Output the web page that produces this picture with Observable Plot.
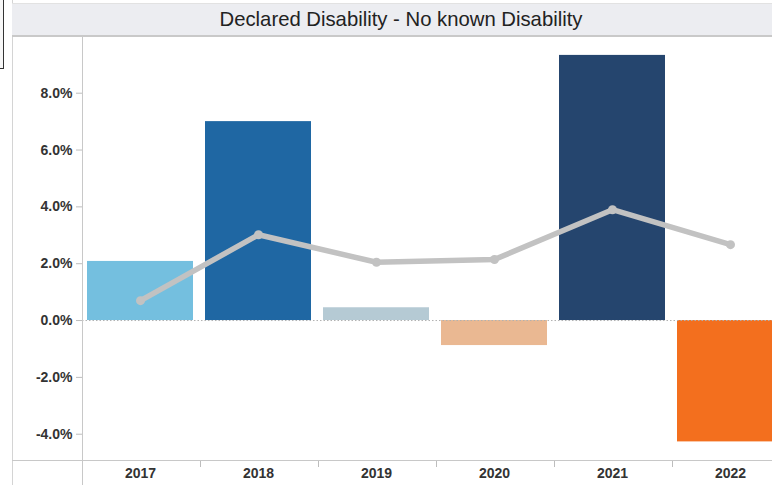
<!DOCTYPE html>
<html>
<head>
<meta charset="utf-8">
<script src="https://cdn.jsdelivr.net/npm/d3@7"></script>
<script src="https://cdn.jsdelivr.net/npm/@observablehq/plot@0.6"></script>
<style>
  html, body { margin: 0; padding: 0; background: #fff; }
  #wrap { position: relative; width: 772px; height: 485px; overflow: hidden; font-family: "Liberation Sans", Arial, sans-serif; }
  #legendbox { position: absolute; left: -2px; top: -2px; width: 4px; height: 69px; border: 1px solid #333; background: #f7f7f7; }
  #leftline { position: absolute; left: 12px; top: 0; width: 1px; height: 485px; background: #d4d4d4; }
  #title { position: absolute; left: 12px; top: 3px; width: 778px; height: 31px; background: #ecedf1; border-top: 1px solid #e2e2e2; border-bottom: 2px solid #c9c9c9;
           font-size: 20.3px; color: #222; text-align: center; line-height: 31px; }
  #chart { position: absolute; left: 0; top: 37px; width: 790px; height: 448px; }
  #chart svg { max-width: none !important; }
  #yline { position: absolute; left: 82px; top: 37px; width: 1px; height: 448px; background: #c8c8c8; }
  #xline { position: absolute; left: 12px; top: 460px; width: 778px; height: 1px; background: #c8c8c8; }
</style>
</head>
<body>
<div id="wrap">
  <div id="legendbox"></div>
  <div id="leftline"></div>
  <div id="title">Declared Disability - No known Disability</div>
  <div id="chart"></div>
  <div id="yline"></div>
  <div id="xline"></div>
</div>
<script>
const years = ["2017", "2018", "2019", "2020", "2021", "2022"];
const diffValues = [0.0208, 0.0700, 0.0045, -0.0088, 0.0933, -0.0427];
const lineValues = [0.0070, 0.0302, 0.0205, 0.0215, 0.0390, 0.0267];
const barColors = ["#74bfdf", "#1f67a3", "#b5cad4", "#eab892", "#25456e", "#f36f1e"];
const yTicks = [-0.04, -0.02, 0, 0.02, 0.04, 0.06, 0.08];

const data = years.map((y, i) => ({year: y, diff: diffValues[i], avg: lineValues[i]}));

const width = 790, height = 448, marginLeft = 82, marginBottom = 24;
const step = (width - marginLeft) / years.length;
const pct = d => d3.format(".1%")(d).replace("\u2212", "-");

const chart = Plot.plot({
  width, height,
  marginLeft, marginRight: 0, marginTop: 0, marginBottom,
  style: {fontFamily: "'Liberation Sans', Arial, sans-serif", color: "#333", background: "transparent", overflow: "visible", maxWidth: "none"},
  x: {domain: years, padding: 0},
  y: {domain: [-0.0496, 0.0996]},
  color: {domain: years, range: barColors},
  marks: [
    Plot.barY(data, {x: "year", y: "diff", fill: "year", insetLeft: 5, insetRight: 7}),
    Plot.ruleY([0], {stroke: "#b0b0b0", strokeWidth: 1, strokeDasharray: "1.5,2"}),
    Plot.line(data, {x: "year", y: "avg", stroke: "#c2c2c2", strokeWidth: 5.5, strokeLinejoin: "round", dx: -1}),
    Plot.dot(data, {x: "year", y: "avg", r: 4.5, fill: "#c2c2c2", dx: -1}),
    Plot.axisY({ticks: yTicks, tickFormat: pct, tickSize: 6, tickPadding: 4, stroke: "#bdbdbd", fontSize: 14, fontWeight: "bold", label: null}),
    Plot.axisX({tickSize: 0, tickPadding: 7, fontSize: 14, fontWeight: "bold", label: null, dx: -1}),
    Plot.axisX({ticks: years.slice(1), tickSize: 6, tickFormat: () => "", stroke: "#bdbdbd", dx: -step / 2, label: null})
  ]
});
document.getElementById("chart").appendChild(chart);
</script>
</body>
</html>
